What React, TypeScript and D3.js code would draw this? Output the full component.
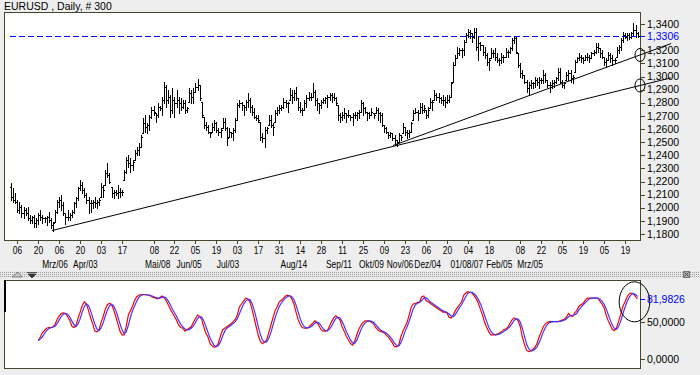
import React from 'react';
import * as d3 from 'd3';

// EURUSD daily bars, first bar = 2006-02-01, weekdays only
const opens = [
  1.2160, 1.2084, 1.2059, 1.2046, 1.1983, 1.2008, 1.1957, 1.1983, 1.1957, 1.1919,
  1.1906, 1.1932, 1.1881, 1.1906, 1.1945, 1.1932, 1.1919, 1.1919, 1.1932, 1.1906,
  1.1868, 1.1894, 1.1970, 1.2046, 1.2059, 1.2021, 1.1957, 1.1932, 1.1932, 1.1945,
  1.1970, 1.2033, 1.2072, 1.2148, 1.2173, 1.2135, 1.2097, 1.2059, 1.2033, 1.2033,
  1.2046, 1.2033, 1.2046, 1.2084, 1.2160, 1.2173, 1.2262, 1.2249, 1.2160, 1.2110,
  1.2122, 1.2110, 1.2122, 1.2122, 1.2211, 1.2275, 1.2364, 1.2338, 1.2326, 1.2364,
  1.2414, 1.2440, 1.2465, 1.2567, 1.2643, 1.2618, 1.2630, 1.2694, 1.2745, 1.2719,
  1.2707, 1.2770, 1.2757, 1.2821, 1.2922, 1.2821, 1.2846, 1.2745, 1.2821, 1.2795,
  1.2821, 1.2795, 1.2770, 1.2795, 1.2745, 1.2808, 1.2872, 1.2846, 1.2884, 1.2922,
  1.2935, 1.2808, 1.2694, 1.2630, 1.2618, 1.2580, 1.2580, 1.2618, 1.2643, 1.2592,
  1.2580, 1.2605, 1.2656, 1.2605, 1.2541, 1.2580, 1.2567, 1.2592, 1.2668, 1.2783,
  1.2795, 1.2783, 1.2770, 1.2808, 1.2821, 1.2770, 1.2732, 1.2694, 1.2681, 1.2656,
  1.2541, 1.2529, 1.2592, 1.2630, 1.2668, 1.2630, 1.2656, 1.2719, 1.2745, 1.2757,
  1.2770, 1.2808, 1.2795, 1.2821, 1.2859, 1.2846, 1.2872, 1.2834, 1.2770, 1.2745,
  1.2745, 1.2795, 1.2834, 1.2846, 1.2846, 1.2884, 1.2821, 1.2795, 1.2783, 1.2808,
  1.2821, 1.2834, 1.2846, 1.2859, 1.2846, 1.2834, 1.2783, 1.2707, 1.2694, 1.2707,
  1.2719, 1.2707, 1.2707, 1.2694, 1.2707, 1.2707, 1.2719, 1.2732, 1.2795, 1.2757,
  1.2732, 1.2719, 1.2707, 1.2719, 1.2719, 1.2745, 1.2719, 1.2707, 1.2630, 1.2605,
  1.2580, 1.2554, 1.2567, 1.2529, 1.2516, 1.2503, 1.2554, 1.2567, 1.2618, 1.2580,
  1.2567, 1.2580, 1.2668, 1.2719, 1.2732, 1.2719, 1.2770, 1.2745, 1.2745, 1.2707,
  1.2757, 1.2808, 1.2821, 1.2859, 1.2846, 1.2834, 1.2821, 1.2821, 1.2808, 1.2821,
  1.2846, 1.2961, 1.3088, 1.3138, 1.3176, 1.3202, 1.3202, 1.3265, 1.3316, 1.3342,
  1.3329, 1.3303, 1.3342, 1.3227, 1.3253, 1.3240, 1.3189, 1.3164, 1.3113, 1.3138,
  1.3176, 1.3176, 1.3151, 1.3126, 1.3126, 1.3151, 1.3151, 1.3189, 1.3189, 1.3215,
  1.3278, 1.3291, 1.3176, 1.3088, 1.3024, 1.3011, 1.2961, 1.2910, 1.2935, 1.2948,
  1.2948, 1.2973, 1.2961, 1.2973, 1.2973, 1.3011, 1.2973, 1.2935, 1.2935, 1.2948,
  1.2961, 1.2986, 1.3037, 1.2961, 1.2935, 1.2973, 1.3011, 1.3024, 1.2986, 1.3037,
  1.3113, 1.3138, 1.3151, 1.3138, 1.3126, 1.3151, 1.3151, 1.3138, 1.3176, 1.3189,
  1.3227, 1.3215, 1.3176, 1.3151, 1.3113, 1.3126, 1.3164, 1.3138, 1.3126, 1.3151,
  1.3202, 1.3227, 1.3278, 1.3316, 1.3303, 1.3316, 1.3303, 1.3329, 1.3354, 1.3329,
];

const highs = [
  1.2191, 1.2148, 1.2115, 1.2059, 1.2046, 1.2021, 1.2008, 1.1995, 1.2008, 1.1945,
  1.1937, 1.1945, 1.1919, 1.1957, 1.1983, 1.1945, 1.1932, 1.1937, 1.1970, 1.1919,
  1.1894, 1.1983, 1.2059, 1.2084, 1.2097, 1.2046, 1.1957, 1.1983, 1.1957, 1.1983,
  1.2046, 1.2084, 1.2160, 1.2211, 1.2199, 1.2148, 1.2110, 1.2084, 1.2059, 1.2059,
  1.2084, 1.2059, 1.2072, 1.2186, 1.2173, 1.2287, 1.2338, 1.2262, 1.2160, 1.2135,
  1.2135, 1.2173, 1.2148, 1.2135, 1.2287, 1.2389, 1.2402, 1.2376, 1.2364, 1.2440,
  1.2465, 1.2491, 1.2554, 1.2681, 1.2707, 1.2643, 1.2707, 1.2770, 1.2775, 1.2719,
  1.2795, 1.2775, 1.2846, 1.2961, 1.2935, 1.2897, 1.2859, 1.2910, 1.2846, 1.2897,
  1.2846, 1.2834, 1.2821, 1.2821, 1.2770, 1.2910, 1.2897, 1.2910, 1.2948, 1.2978,
  1.2935, 1.2808, 1.2694, 1.2656, 1.2630, 1.2580, 1.2643, 1.2668, 1.2656, 1.2605,
  1.2605, 1.2681, 1.2681, 1.2618, 1.2605, 1.2580, 1.2605, 1.2681, 1.2795, 1.2821,
  1.2808, 1.2783, 1.2821, 1.2872, 1.2834, 1.2783, 1.2757, 1.2707, 1.2707, 1.2656,
  1.2567, 1.2618, 1.2618, 1.2707, 1.2707, 1.2643, 1.2745, 1.2770, 1.2783, 1.2783,
  1.2834, 1.2821, 1.2808, 1.2910, 1.2897, 1.2897, 1.2922, 1.2834, 1.2808, 1.2757,
  1.2821, 1.2859, 1.2884, 1.2872, 1.2948, 1.2897, 1.2834, 1.2795, 1.2821, 1.2834,
  1.2846, 1.2859, 1.2872, 1.2872, 1.2872, 1.2846, 1.2783, 1.2719, 1.2732, 1.2757,
  1.2719, 1.2745, 1.2707, 1.2719, 1.2732, 1.2732, 1.2745, 1.2821, 1.2808, 1.2770,
  1.2732, 1.2732, 1.2757, 1.2719, 1.2770, 1.2757, 1.2732, 1.2719, 1.2630, 1.2618,
  1.2580, 1.2580, 1.2567, 1.2554, 1.2516, 1.2567, 1.2554, 1.2643, 1.2618, 1.2592,
  1.2592, 1.2656, 1.2745, 1.2757, 1.2745, 1.2795, 1.2795, 1.2783, 1.2745, 1.2770,
  1.2834, 1.2821, 1.2897, 1.2872, 1.2872, 1.2846, 1.2859, 1.2846, 1.2859, 1.2859,
  1.2961, 1.3113, 1.3164, 1.3227, 1.3215, 1.3215, 1.3278, 1.3329, 1.3359, 1.3354,
  1.3329, 1.3367, 1.3367, 1.3303, 1.3265, 1.3240, 1.3227, 1.3176, 1.3138, 1.3215,
  1.3202, 1.3215, 1.3176, 1.3138, 1.3176, 1.3164, 1.3215, 1.3202, 1.3227, 1.3291,
  1.3309, 1.3303, 1.3176, 1.3100, 1.3049, 1.3011, 1.2973, 1.2961, 1.2973, 1.2961,
  1.2999, 1.2986, 1.2999, 1.2986, 1.3049, 1.3024, 1.2973, 1.2961, 1.2973, 1.2973,
  1.2999, 1.3062, 1.3062, 1.2973, 1.2961, 1.3037, 1.3049, 1.3049, 1.3011, 1.3126,
  1.3151, 1.3176, 1.3164, 1.3151, 1.3164, 1.3176, 1.3164, 1.3189, 1.3202, 1.3253,
  1.3253, 1.3215, 1.3202, 1.3151, 1.3138, 1.3189, 1.3176, 1.3164, 1.3138, 1.3227,
  1.3240, 1.3291, 1.3342, 1.3329, 1.3329, 1.3329, 1.3342, 1.3410, 1.3392, 1.3342,
];

const lows = [
  1.2059, 1.2046, 1.2033, 1.1970, 1.1957, 1.1932, 1.1919, 1.1945, 1.1906, 1.1881,
  1.1881, 1.1856, 1.1856, 1.1876, 1.1906, 1.1886, 1.1894, 1.1868, 1.1894, 1.1843,
  1.1825, 1.1894, 1.1957, 1.2008, 1.1983, 1.1945, 1.1876, 1.1906, 1.1906, 1.1932,
  1.1957, 1.2008, 1.2059, 1.2135, 1.2110, 1.2084, 1.2033, 1.1957, 1.1970, 1.1995,
  1.2008, 1.1995, 1.2021, 1.2084, 1.2084, 1.2173, 1.2237, 1.2186, 1.2084, 1.2072,
  1.2097, 1.2072, 1.2084, 1.2097, 1.2211, 1.2262, 1.2313, 1.2275, 1.2287, 1.2364,
  1.2402, 1.2402, 1.2465, 1.2567, 1.2580, 1.2567, 1.2592, 1.2681, 1.2707, 1.2656,
  1.2694, 1.2745, 1.2707, 1.2795, 1.2770, 1.2795, 1.2694, 1.2719, 1.2694, 1.2770,
  1.2719, 1.2745, 1.2757, 1.2719, 1.2732, 1.2808, 1.2795, 1.2795, 1.2884, 1.2897,
  1.2821, 1.2694, 1.2605, 1.2592, 1.2567, 1.2541, 1.2580, 1.2592, 1.2580, 1.2554,
  1.2541, 1.2605, 1.2592, 1.2478, 1.2541, 1.2541, 1.2516, 1.2580, 1.2668, 1.2770,
  1.2745, 1.2707, 1.2745, 1.2770, 1.2732, 1.2707, 1.2681, 1.2668, 1.2656, 1.2516,
  1.2503, 1.2465, 1.2567, 1.2630, 1.2618, 1.2554, 1.2656, 1.2707, 1.2719, 1.2745,
  1.2757, 1.2770, 1.2732, 1.2821, 1.2795, 1.2821, 1.2821, 1.2745, 1.2732, 1.2707,
  1.2745, 1.2770, 1.2821, 1.2821, 1.2846, 1.2783, 1.2745, 1.2719, 1.2757, 1.2795,
  1.2795, 1.2770, 1.2821, 1.2808, 1.2821, 1.2783, 1.2668, 1.2656, 1.2668, 1.2681,
  1.2656, 1.2694, 1.2668, 1.2630, 1.2681, 1.2668, 1.2681, 1.2732, 1.2707, 1.2719,
  1.2668, 1.2681, 1.2707, 1.2681, 1.2719, 1.2668, 1.2656, 1.2623, 1.2580, 1.2567,
  1.2529, 1.2541, 1.2516, 1.2478, 1.2470, 1.2503, 1.2516, 1.2567, 1.2554, 1.2529,
  1.2541, 1.2580, 1.2668, 1.2719, 1.2668, 1.2719, 1.2719, 1.2732, 1.2681, 1.2694,
  1.2757, 1.2745, 1.2821, 1.2821, 1.2808, 1.2795, 1.2783, 1.2770, 1.2795, 1.2808,
  1.2846, 1.2961, 1.3088, 1.3138, 1.3164, 1.3151, 1.3164, 1.3265, 1.3303, 1.3291,
  1.3265, 1.3291, 1.3202, 1.3126, 1.3202, 1.3164, 1.3138, 1.3088, 1.3049, 1.3138,
  1.3151, 1.3126, 1.3113, 1.3088, 1.3100, 1.3113, 1.3151, 1.3151, 1.3176, 1.3202,
  1.3253, 1.3176, 1.3075, 1.2999, 1.2986, 1.2948, 1.2884, 1.2867, 1.2910, 1.2910,
  1.2922, 1.2935, 1.2910, 1.2948, 1.2948, 1.2961, 1.2922, 1.2884, 1.2910, 1.2922,
  1.2948, 1.2973, 1.2948, 1.2922, 1.2910, 1.2973, 1.2973, 1.2961, 1.2948, 1.3037,
  1.3113, 1.3126, 1.3113, 1.3100, 1.3126, 1.3126, 1.3113, 1.3138, 1.3164, 1.3176,
  1.3189, 1.3151, 1.3138, 1.3088, 1.3075, 1.3126, 1.3113, 1.3088, 1.3100, 1.3151,
  1.3176, 1.3202, 1.3265, 1.3291, 1.3278, 1.3283, 1.3291, 1.3316, 1.3303, 1.3303,
];

const closes = [
  1.2084, 1.2059, 1.2046, 1.1983, 1.2008, 1.1957, 1.1983, 1.1957, 1.1919, 1.1906,
  1.1932, 1.1881, 1.1906, 1.1945, 1.1932, 1.1919, 1.1919, 1.1932, 1.1906, 1.1868,
  1.1881, 1.1970, 1.2046, 1.2059, 1.2021, 1.1957, 1.1932, 1.1932, 1.1945, 1.1970,
  1.2033, 1.2072, 1.2148, 1.2173, 1.2135, 1.2097, 1.2059, 1.2033, 1.2033, 1.2046,
  1.2033, 1.2046, 1.2059, 1.2160, 1.2135, 1.2262, 1.2249, 1.2199, 1.2110, 1.2122,
  1.2110, 1.2122, 1.2122, 1.2122, 1.2275, 1.2364, 1.2338, 1.2326, 1.2351, 1.2414,
  1.2440, 1.2465, 1.2541, 1.2643, 1.2618, 1.2630, 1.2694, 1.2745, 1.2732, 1.2707,
  1.2770, 1.2757, 1.2821, 1.2922, 1.2821, 1.2846, 1.2745, 1.2821, 1.2795, 1.2821,
  1.2795, 1.2770, 1.2795, 1.2745, 1.2757, 1.2872, 1.2846, 1.2884, 1.2922, 1.2935,
  1.2834, 1.2707, 1.2630, 1.2618, 1.2580, 1.2567, 1.2618, 1.2643, 1.2592, 1.2580,
  1.2592, 1.2656, 1.2605, 1.2529, 1.2580, 1.2567, 1.2592, 1.2668, 1.2783, 1.2795,
  1.2783, 1.2770, 1.2808, 1.2821, 1.2770, 1.2732, 1.2694, 1.2681, 1.2668, 1.2541,
  1.2529, 1.2592, 1.2605, 1.2668, 1.2630, 1.2618, 1.2719, 1.2745, 1.2757, 1.2770,
  1.2808, 1.2795, 1.2795, 1.2859, 1.2846, 1.2872, 1.2834, 1.2770, 1.2745, 1.2745,
  1.2795, 1.2834, 1.2846, 1.2846, 1.2884, 1.2821, 1.2795, 1.2783, 1.2808, 1.2821,
  1.2834, 1.2846, 1.2859, 1.2846, 1.2834, 1.2795, 1.2707, 1.2694, 1.2707, 1.2719,
  1.2707, 1.2707, 1.2694, 1.2707, 1.2707, 1.2719, 1.2732, 1.2795, 1.2757, 1.2732,
  1.2719, 1.2707, 1.2732, 1.2707, 1.2745, 1.2719, 1.2707, 1.2630, 1.2605, 1.2580,
  1.2554, 1.2567, 1.2529, 1.2516, 1.2503, 1.2554, 1.2541, 1.2618, 1.2580, 1.2567,
  1.2580, 1.2643, 1.2719, 1.2732, 1.2719, 1.2770, 1.2745, 1.2757, 1.2707, 1.2745,
  1.2808, 1.2808, 1.2859, 1.2846, 1.2834, 1.2821, 1.2821, 1.2808, 1.2821, 1.2846,
  1.2948, 1.3088, 1.3138, 1.3176, 1.3202, 1.3202, 1.3265, 1.3316, 1.3342, 1.3329,
  1.3303, 1.3342, 1.3227, 1.3253, 1.3240, 1.3189, 1.3164, 1.3113, 1.3126, 1.3176,
  1.3176, 1.3151, 1.3126, 1.3126, 1.3151, 1.3151, 1.3189, 1.3189, 1.3215, 1.3278,
  1.3291, 1.3189, 1.3088, 1.3024, 1.3011, 1.2961, 1.2910, 1.2935, 1.2948, 1.2948,
  1.2973, 1.2961, 1.2973, 1.2973, 1.3011, 1.2973, 1.2935, 1.2935, 1.2948, 1.2961,
  1.2986, 1.3037, 1.2961, 1.2935, 1.2948, 1.3011, 1.3024, 1.2986, 1.2999, 1.3113,
  1.3138, 1.3151, 1.3138, 1.3126, 1.3151, 1.3151, 1.3138, 1.3176, 1.3189, 1.3227,
  1.3215, 1.3176, 1.3151, 1.3113, 1.3126, 1.3164, 1.3138, 1.3126, 1.3126, 1.3202,
  1.3227, 1.3278, 1.3316, 1.3303, 1.3316, 1.3303, 1.3329, 1.3354, 1.3329, 1.3306,
];

// stochastic %K (red), starting at bar 13
const STOCH_START = 13;
const stochK = [
  25, 30, 36, 39, 42, 43, 43,
  44, 47, 54, 59, 62, 63, 62, 58, 53, 45,
  43, 45, 56, 64, 73, 78, 75, 66, 56, 48,
  38, 37, 40, 50, 58, 68, 74, 76, 74, 67,
  58, 48, 38, 33, 33, 45, 60, 66, 72, 80,
  85, 87, 88, 88, 88, 87, 87, 85, 84, 83,
  82, 84, 86, 84, 80, 74, 68, 63, 58, 53,
  46, 43, 42, 38, 40, 42, 44, 50, 55, 60,
  58, 54, 44, 35, 30, 21, 18, 16, 17, 22,
  32, 40, 42, 44, 46, 48, 51, 54, 60, 71,
  75, 79, 83, 82, 78, 68, 56, 44, 32, 24,
  21, 23, 26, 36, 46, 56, 66, 71, 78, 80,
  83, 86, 87, 86, 82, 75, 64, 54, 47, 43,
  42, 42, 43, 46, 49, 52, 50, 45, 40, 38,
  38, 39, 45, 51, 56, 59, 56, 53, 44, 38,
  31, 26, 21, 19, 24, 33, 41, 46, 50, 52,
  52, 52, 50, 48, 43, 40, 38, 37, 36, 33,
  30, 26, 22, 17, 17, 19, 30, 38, 44, 50,
  60, 71, 75, 76, 77, 78, 85, 86, 80, 78,
  76, 74, 72, 70, 68, 66, 64, 64, 63, 57,
  56, 60, 66, 70, 74, 78, 87, 90, 92, 91,
  90, 86, 82, 76, 68, 60, 50, 43, 37, 33,
  33, 33, 34, 35, 37, 40, 41, 43, 48, 53,
  56, 55, 52, 44, 30, 20, 12, 10, 11, 13,
  16, 21, 30, 37, 44, 48, 50, 51, 51, 51,
  51, 51, 52, 53, 54, 57, 62, 59, 58, 63,
  66, 72, 74, 76, 80, 83, 83, 83, 83, 83,
  83, 79, 75, 70, 60, 52, 46, 40, 39, 43,
  52, 62, 72, 78, 85, 89, 90, 89, 85, 81.9826,
];

const priceTicks = [1.34, 1.32, 1.31, 1.30, 1.29, 1.28, 1.27, 1.26, 1.25, 1.24, 1.23, 1.22, 1.21, 1.20, 1.19, 1.18];
const oscTicks = [50, 0];

const dayTicks = [
  '2006-02-06', '2006-02-20', '2006-03-06', '2006-03-20', '2006-04-03', '2006-04-17',
  '2006-05-08', '2006-05-22', '2006-06-05', '2006-06-19', '2006-07-03', '2006-07-17',
  '2006-07-31', '2006-08-14', '2006-08-28', '2006-09-11', '2006-09-25', '2006-10-09',
  '2006-10-23', '2006-11-06', '2006-11-20', '2006-12-04', '2006-12-18', '2007-01-08',
  '2007-01-22', '2007-02-05', '2007-02-19', '2007-03-05', '2007-03-19',
];

const monthLabels = ['Mrz/06', 'Apr/03', 'Mai/08', 'Jun/05', 'Jul/03', 'Aug/14', 'Sep/11', 'Okt/09', 'Nov/06', 'Dez/04', '01/08/07', 'Feb/05', 'Mrz/05'];
const monthLabelBars = [21, 35.5, 70, 85, 103.5, 135, 156.5, 172, 185.6, 198.8, 217.5, 233, 247.7];

// trendlines as [bar, price] pairs
const trendLines = [
  { from: [19.5, 1.1826], to: [315, 1.299] },
  { from: [182.3, 1.2474], to: [315, 1.3251] },
];

const FONT = "'Liberation Sans', Arial, sans-serif";
const FRAME = '#46462c';
const NARROW = 0.8; // the date axis uses a condensed face
const fmt = (v: number) => v.toFixed(4).replace('.', ',');

export default function App() {
  const n = closes.length;
  const left = 4, right = 640, top = 12, bottom = 240;
  const oTop = 280, oBottom = 368;

  const x = d3.scaleLinear().domain([0, n - 1]).range([11, 637.6]);
  const y = d3.scaleLinear().domain([1.18, 1.34]).range([234, 24]);
  const yo = d3.scaleLinear().domain([0, 100]).range([359, 285.7]);

  // weekday calendar for the bars
  const barDates: string[] = [];
  const d = new Date(Date.UTC(2006, 1, 1));
  while (barDates.length < n) {
    const wd = d.getUTCDay();
    if (wd !== 0 && wd !== 6) barDates.push(d.toISOString().slice(0, 10));
    d.setUTCDate(d.getUTCDate() + 1);
  }

  let bars = '';
  for (let i = 0; i < n; i++) {
    const cx = Math.round(x(i));
    const yh = Math.round(y(highs[i]));
    const yl = Math.round(y(lows[i]));
    const yop = Math.round(y(opens[i])) + 0.5;
    const ycl = Math.round(y(closes[i])) + 0.5;
    bars += `M${cx + 0.5},${yh}V${yl + 1}M${cx - 1},${yop}H${cx + 1}M${cx},${ycl}H${cx + 2}`;
  }

  const stochD = stochK.map((_, j) => d3.mean(stochK.slice(Math.max(0, j - 2), j + 1)) as number);
  const oscLine = d3.line<number>().x((_, j) => x(j + STOCH_START)).y(v => yo(v));

  const last = closes[n - 1];
  const lastK = stochK[stochK.length - 1];

  return (
    <svg width={700} height={375} style={{ position: 'absolute', left: 0, top: 0, display: 'block' }}
      fontFamily={FONT}>
      <defs>
        <pattern id="dots" width="2" height="2" patternUnits="userSpaceOnUse">
          <rect width="2" height="2" fill="#e8e8e8" />
          <rect width="1" height="1" fill="#a0a0a0" />
        </pattern>
        <clipPath id="oscClip">
          <rect x={left} y={oTop} width={right - left} height={oBottom - oTop} />
        </clipPath>
      </defs>
      <rect width={700} height={375} fill="#eeeeee" />

      {/* price panel */}
      <text x={4} y={9.5} fontSize={10.5} fill="#000">EURUSD , Daily, # 300</text>
      <rect x={left + 0.5} y={top + 0.5} width={right - left} height={bottom - top} fill="#fff" stroke={FRAME} />

      <line x1={x(0) - 1} x2={x(n - 1) + 1} y1={Math.round(y(last)) + 0.5} y2={Math.round(y(last)) + 0.5}
        stroke="#0000ff" strokeDasharray="6 3" />

      <path d={bars} stroke="#000" fill="none" shapeRendering="crispEdges" />

      {trendLines.map((t, k) => {
        const x1 = x(t.from[0]), y1 = y(t.from[1]), x2 = x(t.to[0]), y2 = y(t.to[1]);
        const yc = y1 + (y2 - y1) * (right - x1) / (x2 - x1);
        return (
          <g key={k}>
            <line x1={x1} y1={y1} x2={x2} y2={y2} stroke="#000" strokeWidth={1} />
            <ellipse cx={right} cy={yc} rx={5} ry={6.5} fill="none" stroke="#000" />
          </g>
        );
      })}

      {priceTicks.map(p => (
        <g key={p}>
          <line x1={right} x2={right + 5} y1={Math.round(y(p)) + 0.5} y2={Math.round(y(p)) + 0.5} stroke={FRAME} />
          <text x={right + 7} y={y(p)} dy="0.35em" fontSize={10.5} fill="#000">{fmt(p)}</text>
        </g>
      ))}
      <line x1={right} x2={right + 5} y1={Math.round(y(last)) + 0.5} y2={Math.round(y(last)) + 0.5} stroke="#0000ff" />
      <text x={right + 7} y={y(last)} dy="0.35em" fontSize={10.5} fill="#0000ff">{fmt(last)}</text>

      {dayTicks.map(t => {
        const i = barDates.indexOf(t);
        if (i < 0) return null;
        const tx = Math.round(x(i)) + 0.5;
        return (
          <g key={t}>
            <line x1={tx} x2={tx} y1={bottom} y2={bottom + 4} stroke={FRAME} />
            <text transform={`translate(${tx},254) scale(${NARROW},1)`} textAnchor="middle" fontSize={10.5} fill="#000">
              {t.slice(8, 10)}
            </text>
          </g>
        );
      })}
      {monthLabels.map((m, k) => (
        <text key={m} transform={`translate(${x(monthLabelBars[k])},268) scale(${NARROW},1)`}
          textAnchor="middle" fontSize={10.5} fill="#000">{m}</text>
      ))}

      {/* separator */}
      <rect x={0} y={271} width={700} height={7} fill="url(#dots)" />
      <path d="M12,277L18,272L22,277Z" fill="#c8c8c8" stroke="#666" strokeWidth={0.8} />
      <path d="M27,272.5H37M28,274L36,274L32,278Z" fill="#333" stroke="#333" strokeWidth={0.8} />
      <rect x={683.5} y={271.5} width={6} height={6} fill="#b0b0b0" stroke="#777" />
      <path d="M684.5,272.5L688.5,276.5M688.5,272.5L684.5,276.5" stroke="#444" />

      {/* oscillator panel */}
      <rect x={left + 0.5} y={oTop + 0.5} width={right - left} height={oBottom - oTop} fill="#fff" stroke={FRAME} />
      <rect x={left} y={oTop} width={2} height={32} fill="#000" />
      <g clipPath="url(#oscClip)">
        <path d={oscLine(stochK) || ''} fill="none" stroke="#ff0000" strokeWidth={1.2} />
        <path d={oscLine(stochD) || ''} fill="none" stroke="#3a3aff" strokeWidth={1.2} />
      </g>
      <ellipse cx={x(297.5)} cy={yo(78)} rx={15.3} ry={20} fill="none" stroke="#000" />

      {oscTicks.map(v => (
        <g key={v}>
          <line x1={right} x2={right + 5} y1={Math.round(yo(v)) + 0.5} y2={Math.round(yo(v)) + 0.5} stroke={FRAME} />
          <text x={right + 7} y={yo(v)} dy="0.35em" fontSize={10.5} fill="#000">{fmt(v)}</text>
        </g>
      ))}
      <line x1={right} x2={right + 5} y1={Math.round(yo(lastK)) + 0.5} y2={Math.round(yo(lastK)) + 0.5} stroke="#0000ff" />
      <text x={right + 7} y={yo(lastK)} dy="0.35em" fontSize={10.5} fill="#0000ff">{fmt(lastK)}</text>
    </svg>
  );
}
